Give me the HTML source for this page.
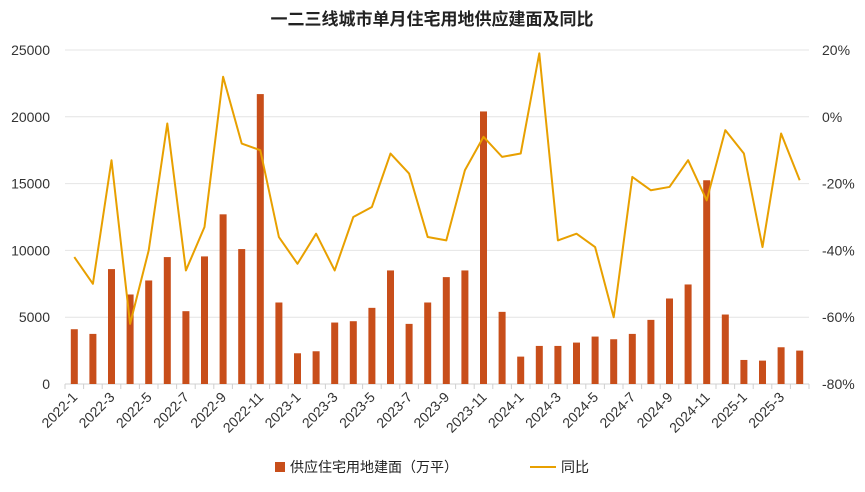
<!DOCTYPE html>
<html><head><meta charset="utf-8"><style>
body{margin:0;background:#fff;font-family:"Liberation Sans","Noto Sans CJK SC",sans-serif}
svg text{font-family:"Liberation Sans","Noto Sans CJK SC",sans-serif}
</style></head><body>
<svg id="c" width="865" height="487">
<text x="432" y="25" text-anchor="middle" font-size="17" font-weight="bold" fill="#222">一二三线城市单月住宅用地供应建面及同比</text>
<g id="grid"></g><g id="bars"></g><g id="line"></g><g id="axes"></g>
<g>
<rect x="275" y="462" width="10" height="10" fill="#c84e1a"/>
<text x="290" y="472" font-size="14" fill="#222">供应住宅用地建面（万平）</text>
<line x1="530" y1="467" x2="556" y2="467" stroke="#e8a000" stroke-width="2"/>
<text x="561" y="472" font-size="14" fill="#222">同比</text>
</g>
</svg>
<script>
const categories=[];for(let y=2022;y<=2025;y++)for(let m=1;m<=12;m++){if(y===2025&&m>4)break;categories.push(y+'-'+m);}
const areaValues=[4100,3750,8600,6700,7750,9500,5450,9550,12700,10100,21700,6100,2300,2450,4600,4700,5700,8500,4500,6100,8000,8500,20400,5400,2050,2850,2850,3100,3550,3350,3750,4800,6400,7450,15250,5200,1800,1750,2750,2500];
const yoyValues=[-42,-50,-13,-62,-40,-2,-46,-33,12,-8,-10,-36,-44,-35,-46,-30,-27,-11,-17,-36,-37,-16,-6,-12,-11,19,-37,-35,-39,-60,-18,-22,-21,-13,-25,-4,-11,-39,-5,-19];
const leftTicks=[0,5000,10000,15000,20000,25000];
const rightTicks=[-80,-60,-40,-20,0,20];
const X0=65,X1=809,Y0=384,Y1=50;
const bw=(X1-X0)/categories.length;
const xc=i=>X0+bw*(i+0.5);
const yl=v=>Y0-(v/25000)*(Y0-Y1);
const yr=v=>Y0-((v+80)/100)*(Y0-Y1);
const NS='http://www.w3.org/2000/svg';
function mk(p,t,a){const e=document.createElementNS(NS,t);for(const k in a)e.setAttribute(k,a[k]);document.getElementById(p).appendChild(e);return e;}
leftTicks.forEach((v,i)=>{
 const g=mk('grid','line',{x1:X0,x2:X1,y1:yl(v),y2:yl(v),stroke:i===0?'#d0d0d0':'#e4e4e4','stroke-width':1});
 
 
 const t=mk('axes','text',{x:50,y:yl(v)+5,'text-anchor':'end','font-size':14,fill:'#333'});t.textContent=v;
 
 
});
rightTicks.forEach(v=>{
 const t=mk('axes','text',{x:822,y:yr(v)+5,'font-size':14,fill:'#333'});t.textContent=v+'%';
 
 
});
for(let i=0;i<=categories.length;i++){
 const tk=mk('axes','line',{x1:X0+bw*i,x2:X0+bw*i,y1:Y0,y2:Y0+5,stroke:'#d0d0d0'});
 
 
}
categories.forEach((c,i)=>{
 const b=mk('bars','rect',{x:xc(i)-3.5,y:yl(areaValues[i]),width:7,height:Y0-yl(areaValues[i]),fill:'#c84e1a'});
 
 
 if(i%2===0){
  const t=mk('axes','text',{x:xc(i)+4,y:Y0+14,'text-anchor':'end','font-size':14,fill:'#333',transform:`rotate(-45 ${xc(i)+4} ${Y0+14})`});t.textContent=c;
  
  
 }
});
const pl=mk('line','polyline',{points:yoyValues.map((v,i)=>xc(i)+','+yr(v)).join(' '),fill:'none',stroke:'#e8a000','stroke-width':2,'stroke-linejoin':'round'});


</script>
</body></html>
